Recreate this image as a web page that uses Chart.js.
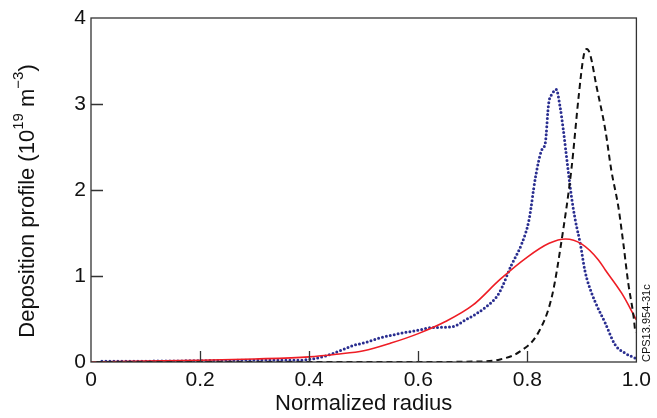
<!DOCTYPE html>
<html>
<head>
<meta charset="utf-8">
<script src="https://cdn.jsdelivr.net/npm/chart.js@4"></script>
<style>
  html, body { margin: 0; padding: 0; background: #fff; }
  #wrap { width: 657px; height: 418px; }
</style>
</head>
<body>
<div id="wrap"><canvas id="chart"></canvas></div>
<script>
// deposition profiles
var blueR = [0.02, 0.1, 0.2, 0.3, 0.38, 0.4, 0.43, 0.46, 0.48, 0.505, 0.53, 0.565, 0.6, 0.625, 0.662, 0.687, 0.724, 0.748, 0.771, 0.79, 0.803, 0.815, 0.826, 0.833, 0.839, 0.846, 0.853, 0.86, 0.866, 0.872, 0.881, 0.888, 0.897, 0.906, 0.918, 0.943, 0.961, 0.98, 1.0];
var blueV = [0.01, 0.01, 0.015, 0.02, 0.02, 0.03, 0.07, 0.14, 0.19, 0.23, 0.28, 0.33, 0.37, 0.40, 0.41, 0.49, 0.64, 0.80, 1.13, 1.38, 1.65, 2.15, 2.46, 2.55, 3.0, 3.12, 3.17, 2.97, 2.70, 2.38, 1.92, 1.65, 1.38, 1.05, 0.80, 0.45, 0.2, 0.1, 0.04];

var blackR = [0.01, 0.2, 0.4, 0.6, 0.7, 0.75, 0.786, 0.82, 0.845, 0.863, 0.881, 0.894, 0.903, 0.909, 0.915, 0.927, 0.943, 0.954, 0.967, 0.976, 0.985, 0.995, 0.998];
var blackV = [0.0, 0.0, 0.0, 0.0, 0.005, 0.03, 0.12, 0.34, 0.76, 1.42, 2.25, 3.08, 3.55, 3.64, 3.58, 3.2, 2.7, 2.23, 1.8, 1.38, 0.92, 0.52, 0.34];

var redR = [0.0, 0.1, 0.2, 0.3, 0.4, 0.45, 0.5, 0.55, 0.6, 0.65, 0.7, 0.75, 0.8, 0.84, 0.87, 0.9, 0.93, 0.943, 0.973, 1.0];
var redV = [0.0, 0.01, 0.02, 0.035, 0.06, 0.09, 0.13, 0.22, 0.33, 0.47, 0.66, 0.96, 1.22, 1.38, 1.43, 1.37, 1.19, 1.07, 0.80, 0.49];

var xTicks = [0, 0.2, 0.4, 0.6, 0.8, 1.0];
var yTicks = [0, 1, 2, 3, 4];

function pts(r, v) {
    return r.map(function(x, i) { return { x: x, y: v[i] }; });
}

var FONT = "'Liberation Sans', Arial, Helvetica, sans-serif";

// frame, inward ticks, y title with superscripts, side label
var decor = {
    id: "decor",
    afterDatasetsDraw: function(chart) {
        var ctx = chart.ctx, a = chart.chartArea;
        var xs = chart.scales.x, ys = chart.scales.y;
        ctx.save();
        ctx.strokeStyle = "#333";
        ctx.lineWidth = 1.3;
        ctx.strokeRect(a.left, a.top, a.right - a.left, a.bottom - a.top);
        ctx.beginPath();
        xTicks.slice(1, -1).forEach(function(t) {
            var px = Math.round(xs.getPixelForValue(t)) + 0.5;
            ctx.moveTo(px, a.bottom);
            ctx.lineTo(px, a.bottom - 11);
        });
        yTicks.slice(1, -1).forEach(function(t) {
            var py = Math.round(ys.getPixelForValue(t)) + 0.5;
            ctx.moveTo(a.left, py);
            ctx.lineTo(a.left + 12, py);
        });
        ctx.stroke();

        // y title
        ctx.fillStyle = "#111";
        ctx.translate(28, 201);
        ctx.rotate(-Math.PI / 2);
        var parts = [
            ["Deposition profile (10", 22, 0],
            ["19", 15, -9],
            [" m", 22, 0],
            ["\u22123", 15, -9],
            [")", 22, 0]
        ];
        var total = 0;
        parts.forEach(function(p) {
            ctx.font = p[1] + "px " + FONT;
            total += ctx.measureText(p[0]).width;
        });
        var x = -total / 2;
        ctx.textBaseline = "middle";
        parts.forEach(function(p) {
            ctx.font = p[1] + "px " + FONT;
            ctx.fillText(p[0], x, p[2]);
            x += ctx.measureText(p[0]).width;
        });
        ctx.restore();

        // side label
        ctx.save();
        ctx.fillStyle = "#111";
        ctx.font = "11px " + FONT;
        ctx.translate(a.right + 11, a.bottom);
        ctx.rotate(-Math.PI / 2);
        ctx.textBaseline = "middle";
        ctx.textAlign = "left";
        ctx.fillText("CPS13.954-31c", 0, 0);
        ctx.restore();
    }
};

document.addEventListener("DOMContentLoaded", function() {
    var ctx = document.getElementById("chart").getContext("2d");
    new Chart(ctx, {
        type: "line",
        data: {
            datasets: [{
                data: pts(blackR, blackV),
                borderColor: "#111",
                borderWidth: 2,
                borderDash: [6, 4],
                pointRadius: 0,
                cubicInterpolationMode: "monotone"
            }, {
                data: pts(redR, redV),
                borderColor: "#ee1d25",
                borderWidth: 1.6,
                pointRadius: 0,
                cubicInterpolationMode: "monotone"
            }, {
                data: pts(blueR, blueV),
                borderColor: "#2a2e90",
                borderWidth: 3,
                borderDash: [0, 4],
                borderCapStyle: "round",
                pointRadius: 0,
                cubicInterpolationMode: "monotone"
            }]
        },
        options: {
            responsive: true,
            maintainAspectRatio: false,
            animation: false,
            layout: { padding: { top: 18, right: 19, left: 0, bottom: 0 } },
            plugins: { legend: { display: false }, tooltip: { enabled: false } },
            scales: {
                x: {
                    type: "linear",
                    min: 0, max: 1,
                    afterBuildTicks: function(s) { s.ticks = xTicks.map(function(v) { return { value: v }; }); },
                    afterFit: function(s) { s.height = 56; },
                    grid: { display: false, drawTicks: false },
                    border: { display: false },
                    ticks: {
                        color: "#111",
                        padding: 6,
                        font: { family: FONT, size: 21 },
                        callback: function(v) { return v === 0 ? "0" : v.toFixed(1); }
                    },
                    title: {
                        display: true,
                        text: "Normalized radius",
                        color: "#111",
                        font: { family: FONT, size: 22 },
                        padding: { top: 0, bottom: 1 }
                    }
                },
                y: {
                    min: 0, max: 4,
                    afterBuildTicks: function(s) { s.ticks = yTicks.map(function(v) { return { value: v }; }); },
                    afterFit: function(s) { s.width = 91; },
                    grid: { display: false, drawTicks: false },
                    border: { display: false },
                    ticks: {
                        color: "#111",
                        padding: 5,
                        font: { family: FONT, size: 21 }
                    }
                }
            }
        },
        plugins: [decor]
    });
});
</script>
</body>
</html>
